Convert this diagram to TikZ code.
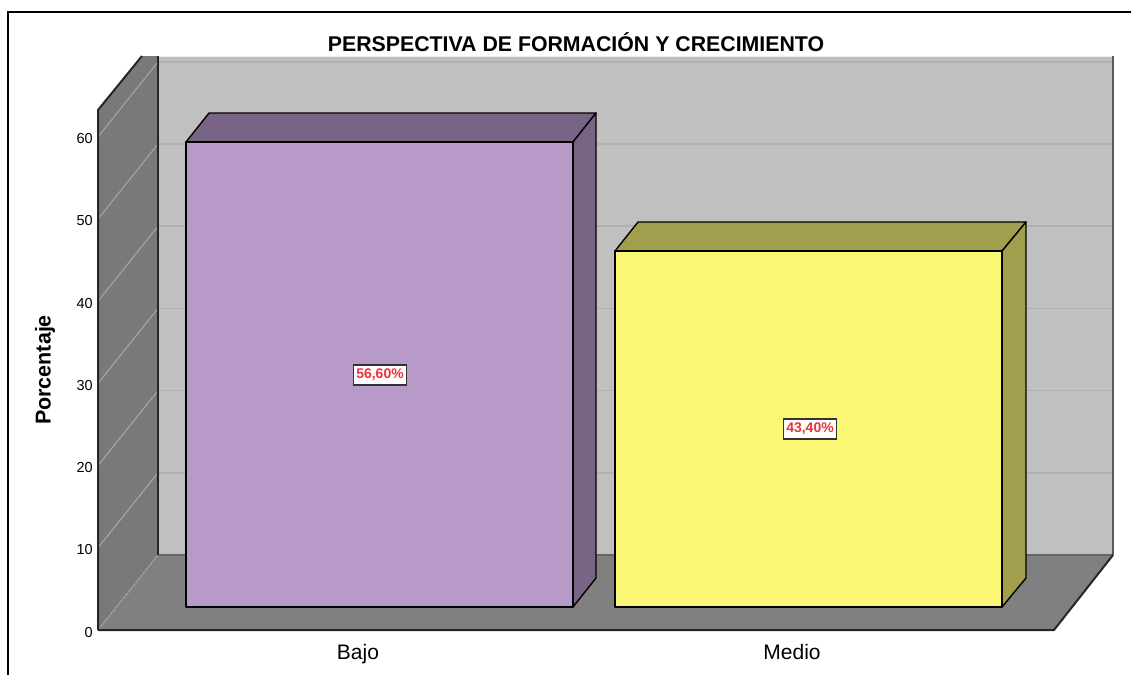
\documentclass[tikz,border=0pt]{standalone}
\usepackage{fontspec}
\setmainfont{Liberation Sans}
\definecolor{wallL}{RGB}{121,121,121}
\definecolor{floorc}{RGB}{128,128,128}
\definecolor{wallB}{RGB}{192,192,192}
\definecolor{gridB}{RGB}{176,176,176}
\definecolor{gridL}{RGB}{165,165,165}
\definecolor{purpF}{RGB}{183,154,200}
\definecolor{purpD}{RGB}{120,101,133}
\definecolor{yelF}{RGB}{251,247,117}
\definecolor{yelD}{RGB}{161,159,77}
\definecolor{labred}{RGB}{235,50,60}
\begin{document}
\begin{tikzpicture}[x=1pt,y=-1pt,
  edge/.style={line width=1.4pt, line join=round, draw=black},
  wedge/.style={line width=2pt, draw=black!85},
  gline/.style={line width=1.6pt, draw=gridB},
  lline/.style={line width=1.1pt, draw=gridL},
  tick/.style={anchor=east, font=\fontsize{14.5}{16}\selectfont, inner sep=0pt},
  cat/.style={anchor=base, font=\fontsize{21}{24}\selectfont, inner sep=0pt},
  datalab/.style={draw=black!80, line width=1.3pt, fill=white, text=labred,
    font=\bfseries\fontsize{14}{16}\selectfont, inner xsep=3pt, inner ysep=4pt}
]
\useasboundingbox (0,0) rectangle (1131,675);
\fill[white] (0,0) rectangle (1131,675);
% frame
\draw[line width=1.5pt] (8,675) -- (8,12) -- (1131,12);
% title
\node[font=\bfseries\fontsize{21.3}{24}\selectfont, inner sep=0pt] (title) at (576,42) {PERSPECTIVA DE FORMACIÓN Y CRECIMIENTO};
% back wall
\fill[wallB] (158,56) rectangle (1113,555);
\draw[line width=1pt, draw=white!85!gray] (158,56) -- (1113,56);
% back gridlines
\foreach \k in {1,...,6} {
  \draw[gline] (158,{555-82.2*\k}) -- (1113,{555-82.2*\k});
}
% left wall
\fill[wallL] (98,630) -- (98,110) -- (142,56) -- (158,56) -- (158,555) -- cycle;
\foreach \k in {1,...,6} {
  \draw[lline] (98,{630-82.2*\k}) -- (158,{555-82.2*\k});
}
% floor
\fill[floorc] (98,630) -- (158,555) -- (1113,555) -- (1054,630) -- cycle;
\draw[lline, dash pattern=on 3pt off 1pt] (98,630) -- (158,555);
% wall edges
\draw[line width=1.2pt, draw=black!60] (158,555) -- (1113,555);
\draw[wedge] (158,56) -- (158,555);
\draw[line width=2pt, draw=black!65] (1113,56) -- (1113,555);
\draw[wedge, line join=round] (98,630) -- (98,110) -- (142,56);
\draw[wedge] (98,630) -- (1054,630) -- (1113,555);
% bar 1 (Bajo)
\filldraw[edge, fill=purpD] (186,142) -- (209,113) -- (596,113) -- (573,142) -- cycle;
\filldraw[edge, fill=purpD] (573,142) -- (596,113) -- (596,578) -- (573,607) -- cycle;
\filldraw[edge, fill=purpF] (186,142) rectangle (573,607);
% bar 2 (Medio)
\filldraw[edge, fill=yelD] (615,251) -- (638,222) -- (1026,222) -- (1002,251) -- cycle;
\filldraw[edge, fill=yelD] (1002,251) -- (1026,222) -- (1026,578) -- (1002,607) -- cycle;
\filldraw[edge, fill=yelF] (615,251) rectangle (1002,607);
% data labels
\node[datalab] (lab1) at (380,375) {56,60\%};
\node[datalab] (lab2) at (810,429) {43,40\%};
% tick labels
\foreach \k/\t in {0/0,1/10,2/20,3/30,4/40,5/50,6/60} {
  \node[tick] (t\k) at (93,{632-82.2*\k}) {\t};
}
% axis title
\node[rotate=90, font=\bfseries\fontsize{21.5}{24}\selectfont, inner sep=0pt] (ytitle) at (45,370) {Porcentaje};
% category labels
\node[cat] (c1) at (358,659) {Bajo};
\node[cat] (c2) at (792,659) {Medio};
\end{tikzpicture}
\end{document}
